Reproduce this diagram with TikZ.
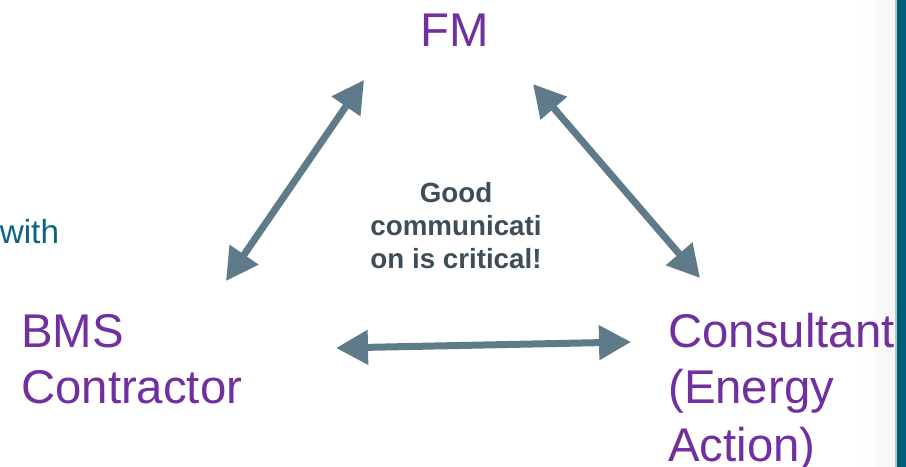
\documentclass[tikz,border=0pt]{standalone}
\usepackage{fontspec}
\setmainfont{Liberation Sans}
\usetikzlibrary{arrows.meta}
\definecolor{labelpurple}{HTML}{7030A0}
\definecolor{linkgrey}{HTML}{5F7A89}
\definecolor{notegrey}{HTML}{3E4E59}
\definecolor{edgeteal}{HTML}{005D77}
\definecolor{edgeline}{HTML}{B9C4CB}
\definecolor{introteal}{HTML}{0A6580}
\begin{document}
\begin{tikzpicture}[x=0.75pt,y=-0.75pt,
  party/.style={anchor=base west, inner sep=0pt, text=labelpurple,
    font=\fontsize{35.5}{42}\selectfont},
  note/.style={anchor=base, inner sep=0pt, text=notegrey,
    font=\fontsize{20.8}{24.75}\selectfont\bfseries},
  link/.style={draw=linkgrey, line width=5.25pt,
    {Triangle[length=24pt,width=25pt]}-{Triangle[length=24pt,width=25pt]}},
]
\useasboundingbox (0,0) rectangle (906,467);
\fill[white] (0,0) rectangle (906,467);

% slide edge on the right
\shade[left color=white, right color=black!4] (860,0) rectangle (895,467);
\fill[edgeline] (895,0) rectangle (897,467);
\fill[edgeteal] (897,0) rectangle (906,467);

% leftover text from the slide
\node[anchor=base west, inner sep=0pt, text=introteal,
  font=\fontsize{25}{30}\selectfont] (intro) at (-0.5,243) {with};

% the three parties
\node[anchor=base, inner sep=0pt, text=labelpurple,
  font=\fontsize{35.5}{42}\selectfont] (fm) at (455,47) {FM};
\node[party] (bms1) at (21,347) {BMS};
\node[party] (bms2) at (21,403) {Contractor};
\node[party] (cons1) at (668,347) {Consultant};
\node[party] (cons2) at (668,403) {(Energy};
\node[party] (cons3) at (668,461) {Action)};

% central note
\node[note] (note1) at (456,202) {Good};
\node[note] (note2) at (456,235) {communicati};
\node[note] (note3) at (456,268) {on is critical!};

% arrow end points
\coordinate (fmL) at (364,80);
\coordinate (fmR) at (533,84);
\coordinate (bmsTop) at (226,281);
\coordinate (bmsSide) at (336,348);
\coordinate (consTop) at (700,278);
\coordinate (consSide) at (631,342);

% two-way links
\draw[link] (bmsTop) -- (fmL);
\draw[link] (fmR) -- (consTop);
\draw[link] (bmsSide) -- (consSide);
\end{tikzpicture}
\end{document}
